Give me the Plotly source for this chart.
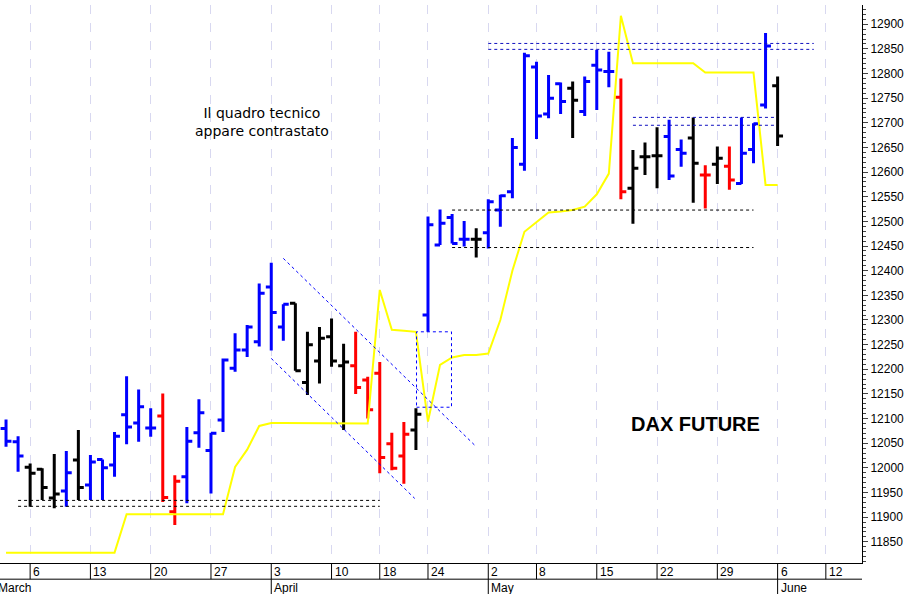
import pandas as pd
import plotly.graph_objects as go

# trading days (Eurex closed 14/17 April, 1 May, 5 June)
holidays = ["2017-04-14", "2017-04-17", "2017-05-01", "2017-06-05"]
days = [d for d in pd.bdate_range("2017-03-02", "2017-06-12") if d.strftime("%Y-%m-%d") not in holidays]
n_bars = 65

opens = [12080, 12053, 12001, 11997, 11939, 11953, 12016, 11965, 12017, 12006,
         12108, 12091, 12081, 12105, 11911, 11982, 12071, 12035, 12097, 12202,
         12239, 12256, 12367, 12286, 12334, 12173, 12217, 12266, 12207, 12207,
         12178, 12192, 12049, 12024, 12077, 12310, 12452, 12508, 12464, 12464,
         12477, 12523, 12560, 12616, 12813, 12718, 12779, 12770, 12723, 12817,
         12804, 12752, 12567, 12631, 12633, 12672, 12646, 12669, 12594, 12616,
         12612, 12577, 12646, 12736, 12775]
highs = [12098, 12064, 12009, 11999, 12028, 12034, 12077, 12026, 12017, 12073,
         12186, 12159, 12121, 12151, 11985, 12083, 12139, 12071, 12222, 12273,
         12290, 12374, 12416, 12332, 12334, 12276, 12286, 12303, 12252, 12276,
         12185, 12215, 12071, 12093, 12121, 12510, 12524, 12515, 12501, 12486,
         12545, 12554, 12669, 12842, 12824, 12797, 12782, 12784, 12794, 12848,
         12844, 12790, 12645, 12660, 12691, 12706, 12666, 12711, 12614, 12652,
         12652, 12711, 12699, 12882, 12794]
lows = [12043, 11992, 11921, 11935, 11918, 11921, 11935, 11935, 11935, 11982,
        12048, 12053, 12063, 11931, 11884, 11928, 12041, 11948, 12073, 12195,
        12225, 12246, 12238, 12258, 12197, 12148, 12171, 12205, 12077, 12150,
        12100, 11989, 11995, 11968, 12036, 12276, 12452, 12455, 12449, 12427,
        12445, 12489, 12547, 12603, 12667, 12709, 12718, 12669, 12714, 12726,
        12772, 12545, 12495, 12594, 12567, 12584, 12611, 12538, 12526, 12576,
        12564, 12576, 12618, 12729, 12653]
closes = [12054, 12024, 11989, 11960, 11947, 11990, 11960, 12012, 12000, 12064,
          12083, 12124, 12081, 11940, 11973, 12054, 12112, 12070, 12219, 12239,
          12286, 12354, 12315, 12332, 12197, 12250, 12263, 12217, 12215, 12163,
          12118, 12021, 11999, 12068, 12109, 12493, 12496, 12455, 12464, 12464,
          12540, 12552, 12650, 12836, 12714, 12750, 12743, 12746, 12784, 12807,
          12804, 12560, 12608, 12631, 12633, 12592, 12638, 12618, 12594, 12628,
          12584, 12638, 12698, 12856, 12673]
bar_colors = list("bbkkkbkbbbbbbrrbbbbbbbbbkkkkkrrrrrkbbbbkbbbbbbbkbbbrkkkbbkrkrbbbk")

# yellow indicator
indicator = [11828, 11828, 11828, 11828, 11828, 11828, 11828, 11828, 11828, 11828,
             11906, 11906, 11906, 11906, 11906, 11906, 11906, 11906, 11906, 12002,
             12037, 12085, 12091, 12091, 12091, 12091, 12091, 12091, 12091, 12091,
             12090, 12361, 12280, 12278, 12276, 12094, 12209, 12224, 12229, 12229,
             12232, 12300, 12400, 12479, 12499, 12518, 12520, 12523, 12530, 12555,
             12597, 12917, 12821, 12821, 12821, 12821, 12821, 12821, 12802, 12802,
             12802, 12802, 12802, 12574, 12574]

# support / resistance levels: (start bar, end bar, price, colour)
levels = [(1, 31, 11934, "black"), (1, 31, 11922, "black"),
          (37, 62, 12523, "black"), (37, 62, 12447, "black"),
          (40, 67, 12861, "#1010c0"), (40, 67, 12849, "#1010c0"),
          (52, 63.7, 12711, "#1010c0"), (52, 63.7, 12695, "#1010c0")]
channel_upper = [(23.0, 12425), (39.0, 12043)]
channel_lower = [(22.0, 12222), (33.9, 11938)]
box = [(34.05, 12123), (36.95, 12276)]

week_days = ["6", "13", "20", "27", "3", "10", "18", "24", "2", "8", "15", "22", "29", "6", "12"]
week_idx = [2, 7, 12, 17, 22, 27, 31, 35, 40, 44, 49, 54, 59, 64, 68]
months = ["March", "April", "May", "June"]
month_idx = [-0.5, 22, 40, 64]

colour_map = {"b": "#0000ff", "k": "#000000", "r": "#ff0000"}

fig = go.Figure()
fig.add_trace(go.Scatter(x=list(range(n_bars)), y=indicator, mode="lines",
                         line=dict(color="#ffff00", width=2), hoverinfo="skip"))
for code, col in colour_map.items():
    idx = [i for i in range(n_bars) if bar_colors[i] == code]
    fig.add_trace(go.Ohlc(
        x=idx, open=[opens[i] for i in idx], high=[highs[i] for i in idx],
        low=[lows[i] for i in idx], close=[closes[i] for i in idx],
        increasing=dict(line=dict(color=col, width=3)),
        decreasing=dict(line=dict(color=col, width=3)),
        tickwidth=0.45))

for x0, x1, p, col in levels:
    fig.add_shape(type="line", x0=x0, x1=x1, y0=p, y1=p,
                  line=dict(color=col, width=1, dash="dot"))
for seg in (channel_upper, channel_lower):
    fig.add_shape(type="line", x0=seg[0][0], y0=seg[0][1], x1=seg[1][0], y1=seg[1][1],
                  line=dict(color="#0000ff", width=1, dash="dot"))
fig.add_shape(type="rect", x0=box[0][0], y0=box[0][1], x1=box[1][0], y1=box[1][1],
              line=dict(color="#0000ff", width=1, dash="dot"))

# date rows under the plot
for lab, i in zip(week_days, week_idx):
    fig.add_annotation(x=i, y=0, xref="x", yref="paper", text=lab, showarrow=False,
                       xanchor="left", yanchor="middle", yshift=-9, xshift=1, font=dict(size=12))
    fig.add_shape(type="line", x0=i, x1=i, y0=0, y1=-0.029, xref="x", yref="paper",
                  line=dict(color="black", width=1))
for lab, i in zip(months, month_idx):
    fig.add_annotation(x=i, y=0, xref="x", yref="paper", text=lab, showarrow=False,
                       xanchor="left", yanchor="middle", yshift=-25,
                       xshift=1 if i > 0 else -4, font=dict(size=12))
    if i > 0:
        fig.add_shape(type="line", x0=i, x1=i, y0=-0.029, y1=-0.06, xref="x", yref="paper",
                      line=dict(color="black", width=1))
fig.add_shape(type="line", x0=0, x1=1, y0=-0.029, y1=-0.029, xref="paper", yref="paper",
              line=dict(color="black", width=1))

fig.add_annotation(x=21.2, y=12702, text="Il quadro tecnico<br>appare contrastato",
                   showarrow=False, font=dict(size=14, color="black", family="DejaVu Sans"))
fig.add_annotation(x=57.2, y=12088, text="<b>DAX FUTURE</b>",
                   showarrow=False, font=dict(size=20, color="black"))

fig.update_layout(
    width=918, height=594, margin=dict(l=0, r=56, t=5, b=31, autoexpand=False),
    paper_bgcolor="white", plot_bgcolor="white", showlegend=False,
    font=dict(family="Liberation Sans, Arial", color="black"),
    xaxis=dict(range=[-0.5, 71], rangeslider=dict(visible=False), tickvals=week_idx,
               showticklabels=False, ticks="", showgrid=True, gridcolor="#d8d8f0",
               griddash="dash", gridwidth=1, zeroline=False, automargin=False,
               showline=True, linecolor="black", linewidth=1),
    yaxis=dict(side="right", range=[11807, 12939], dtick=50, tick0=11850, tickformat="d",
               showgrid=False, zeroline=False, ticks="outside", ticklen=5, automargin=False,
               showline=True, linecolor="black", linewidth=1, tickfont=dict(size=12),
               minor=dict(dtick=10, ticks="outside", ticklen=3, showgrid=False)),
)

fig.write_html("out.html", config={"displayModeBar": False},
               post_script="document.body.style.margin='0';document.body.style.overflow='hidden';")
